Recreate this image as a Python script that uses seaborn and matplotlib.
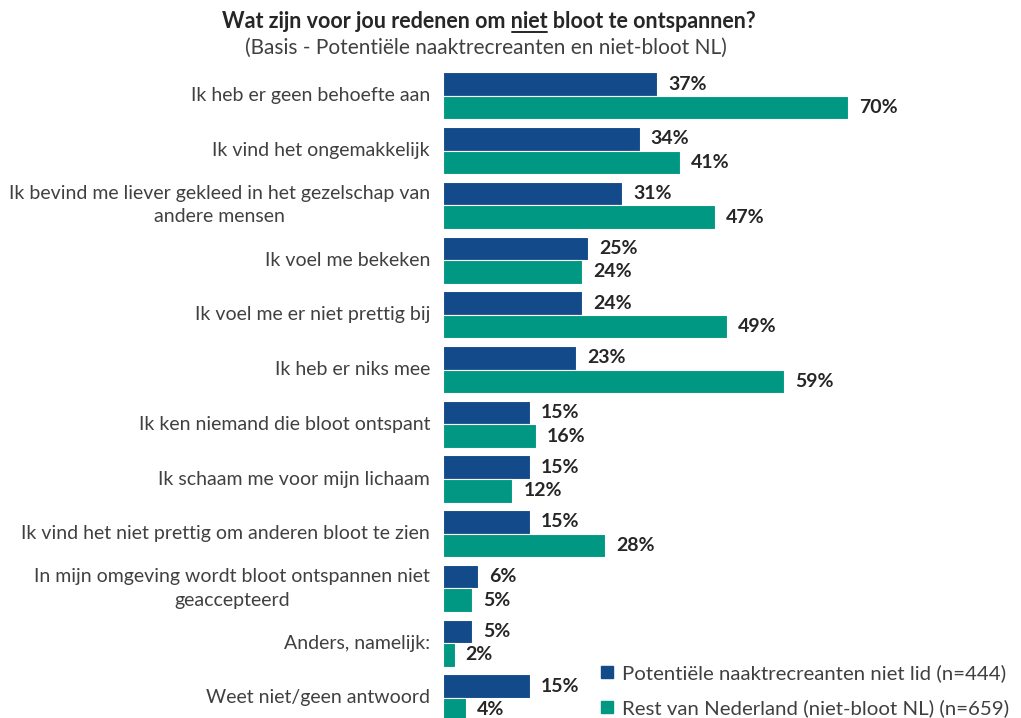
import pandas as pd
import matplotlib
matplotlib.use("Agg")
import matplotlib.pyplot as plt
import matplotlib.transforms as mtransforms
import seaborn as sns
from matplotlib.lines import Line2D

# Data
categories = [
    "Ik heb er geen behoefte aan",
    "Ik vind het ongemakkelijk",
    "Ik bevind me liever gekleed in het gezelschap van\nandere mensen",
    "Ik voel me bekeken",
    "Ik voel me er niet prettig bij",
    "Ik heb er niks mee",
    "Ik ken niemand die bloot ontspant",
    "Ik schaam me voor mijn lichaam",
    "Ik vind het niet prettig om anderen bloot te zien",
    "In mijn omgeving wordt bloot ontspannen niet\ngeaccepteerd",
    "Anders, namelijk:",
    "Weet niet/geen antwoord",
]
potentieel = [37, 34, 31, 25, 24, 23, 15, 15, 15, 6, 5, 15]
rest_nl = [70, 41, 47, 24, 49, 59, 16, 12, 28, 5, 2, 4]
series_names = [
    "Potentiële naaktrecreanten niet lid (n=444)",
    "Rest van Nederland (niet-bloot NL) (n=659)",
]
colors = ["#134a8a", "#009883"]

df = pd.DataFrame({
    "reden": categories * 2,
    "pct": potentieel + rest_nl,
    "groep": [series_names[0]] * len(categories) + [series_names[1]] * len(categories),
})

sns.set_style("white")
plt.rcParams["font.family"] = ["Lato", "DejaVu Sans"]
text_color = "#404040"

fig = plt.figure(figsize=(10.21, 7.18), dpi=100)
ax = fig.add_axes([443 / 1021, -0.0178, 578.6 / 1021, 0.93])

sns.barplot(data=df, y="reden", x="pct", hue="groep", palette=colors,
            order=categories, hue_order=series_names, width=0.86,
            saturation=1, edgecolor="white", linewidth=0.8, ax=ax, legend=False)

ax.set_xlim(0, 100)
ax.set_ylim(11.6, -0.6)
ax.set_xlabel("")
ax.set_ylabel("")
ax.set_xticks([])
ax.set_yticks([])
sns.despine(ax=ax, left=True, bottom=True)

# category labels, right-aligned block with centred lines
lab_trans = ax.get_yaxis_transform() + mtransforms.ScaledTranslation(
    -13 / 100, 0, fig.dpi_scale_trans)
for i, cat in enumerate(categories):
    ax.text(0, i, cat, transform=lab_trans, ha="right", va="center",
            multialignment="center", linespacing=1.45, fontsize=14,
            color=text_color)

for cont in ax.containers:
    ax.bar_label(cont, labels=[f"{v:.0f}%" for v in cont.datavalues],
                 padding=8, fontsize=14, fontweight="bold", color="#262626")

# Title with underlined "niet"
title_y = 1 - 22 / 718
pre, word, post = "Wat zijn voor jou redenen om ", "niet", " bloot te ontspannen?"
tkw = dict(fontsize=15.5, fontweight="bold", color="#262626", va="center")
full = fig.text(489 / 1021, title_y, pre + word + post, ha="center", **tkw)
fig.canvas.draw()
r = fig.canvas.get_renderer()
fb = full.get_window_extent(r)
tmp1 = fig.text(0, 0, pre, **tkw)
tmp2 = fig.text(0, 0, pre + word, **tkw)
w1 = tmp1.get_window_extent(r).width
w2 = tmp2.get_window_extent(r).width
tmp1.remove()
tmp2.remove()
x0 = (fb.x0 + w1 + 1) / fig.bbox.width
x1 = (fb.x0 + w2 - 1) / fig.bbox.width
uy = (fb.y0 + 1) / fig.bbox.height
fig.add_artist(Line2D([x0, x1], [uy, uy], color="#262626", lw=1.4,
                      transform=fig.transFigure))

fig.text(486 / 1021, 1 - 48 / 718,
         "(Basis - Potentiële naaktrecreanten en niet-bloot NL)",
         ha="center", va="center", fontsize=15, color=text_color)

handles = [Line2D([], [], marker="s", linestyle="", markersize=8,
                  markerfacecolor=c, markeredgecolor=c) for c in colors]
fig.legend(handles, series_names, loc="lower right",
           bbox_to_anchor=(1.0, -0.016), frameon=False, fontsize=14.7,
           labelcolor=text_color, handletextpad=0.3, labelspacing=0.85,
           borderaxespad=0.2, handlelength=0.8)

fig.savefig("out.png", dpi=100)
